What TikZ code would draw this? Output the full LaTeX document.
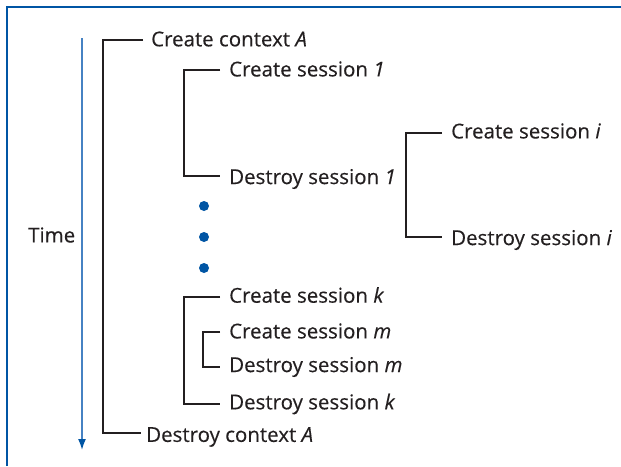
\documentclass[tikz,border=0pt]{standalone}
\usepackage{fontspec}
\setmainfont{Open Sans}[FakeBold=0.3]
\usetikzlibrary{arrows.meta}
\definecolor{frameblue}{RGB}{0,85,164}
\definecolor{timeblue}{RGB}{70,130,195}
\definecolor{ink}{RGB}{35,31,32}
\tikzset{
  lbl/.style={anchor=west, inner sep=0pt, text=ink, font=\fontsize{20.5}{24}\selectfont},
  brk/.style={draw=ink, line width=1.1pt},
  dotn/.style={circle, fill=frameblue, inner sep=0pt, minimum size=10pt}
}
\begin{document}
\begin{tikzpicture}[x=1pt,y=-1pt]
\useasboundingbox (0,0) rectangle (621,466);
% frame
\draw[frameblue, line width=2.6pt] (7,466) -- (7,7) -- (621,7);
% time axis
\coordinate (t0) at (82,38);
\coordinate (t1) at (82,450);
\draw[timeblue, line width=1.6pt, -{Latex[length=11pt,width=8pt,color=frameblue]}] (t0) -- (t1);
\node[lbl] (time) at (28,235) {Time};
% labels
\node[lbl] (cA) at (151,39) {Create context \textit{A}};
\node[lbl] (dA) at (146,437) {Destroy context \textit{A}};
\node[lbl] (c1) at (229,69) {Create session \textit{1}};
\node[lbl] (d1) at (229,179) {Destroy session \textit{1}};
\node[lbl] (ci) at (451,131) {Create session \textit{i}};
\node[lbl] (di) at (451,240) {Destroy session \textit{i}};
\node[lbl] (ck) at (229,295) {Create session \textit{k}};
\node[lbl] (cm) at (229,331) {Create session \textit{m}};
\node[lbl] (dm) at (229,367) {Destroy session \textit{m}};
\node[lbl] (dk) at (229,404) {Destroy session \textit{k}};
% brackets
\draw[brk] ([xshift=-8pt,yshift=-1pt]cA.west) -| (103,433) -- ([xshift=-5pt,yshift=4pt]dA.west);
\draw[brk] ([xshift=-9pt,yshift=-1pt]c1.west) -| (184,176) -- ([xshift=-9pt,yshift=3pt]d1.west);
\draw[brk] ([xshift=-9pt,yshift=-2pt]ci.west) -| (406,237) -- ([xshift=-9pt,yshift=3pt]di.west);
\draw[brk] ([xshift=-9pt,yshift=-2pt]ck.west) -| (184,404) -- ([xshift=-9pt,yshift=0pt]dk.west);
\draw[brk] ([xshift=-9pt,yshift=-1pt]cm.west) -| (203,367) -- ([xshift=-9pt,yshift=0pt]dm.west);
% dots
\node[dotn] (p1) at (204,206) {};
\node[dotn] (p2) at (204,237) {};
\node[dotn] (p3) at (204,268) {};
\end{tikzpicture}
\end{document}
